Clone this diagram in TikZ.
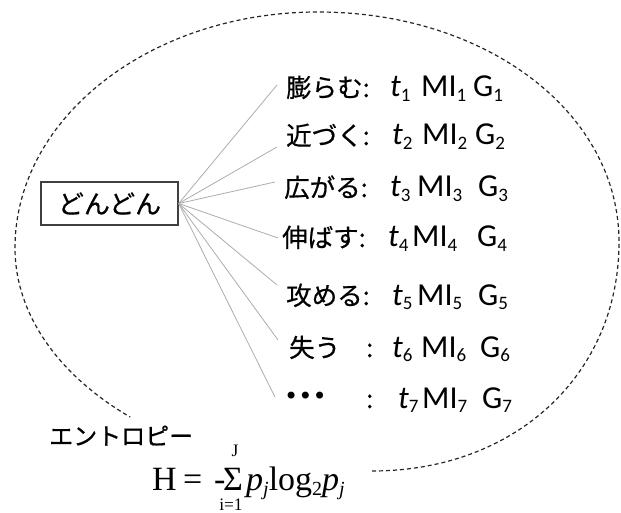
\documentclass[tikz,border=0pt]{standalone}
\usepackage{fontspec}
\newfontfamily\jpf[FakeBold=0.6]{Noto Sans CJK JP}
\newfontfamily\latf{Carlito}
\newfontfamily\tnrf{Liberation Serif}
\newfontfamily\djvf{DejaVu Sans}
\newcommand\subd[1]{\raisebox{-4.5pt}{\latf\fontsize{19}{19}\selectfont #1}}
\newcommand\subt[1]{\raisebox{-5pt}{\tnrf\fontsize{20}{20}\selectfont #1}}
\tikzset{
  jpl/.style={anchor=base west, inner sep=0pt, font=\jpf\fontsize{25.5}{28}\selectfont},
  latl/.style={anchor=base west, inner sep=0pt, font=\latf\fontsize{32}{34}\selectfont},
  tnl/.style={anchor=base west, inner sep=0pt, font=\tnrf\fontsize{34}{36}\selectfont},
  tns/.style={anchor=base, inner sep=0pt, font=\tnrf\fontsize{17.5}{18}\selectfont},
  conn/.style={draw=gray!65, line width=0.8pt},
  frm/.style={draw=black!75, line width=1.3pt, minimum width=137pt, minimum height=43pt, inner sep=0pt, font=\jpf\fontsize{26}{28}\selectfont},
  ell/.style={draw=black!85, line width=1.2pt, dash pattern=on 4pt off 3pt}
}
\begin{document}
\begin{tikzpicture}[x=1pt,y=-1pt]
\useasboundingbox (0,0) rectangle (621,513);
% dashed enclosing curve
\draw[ell] (372,471) .. controls (515,471) and (619,375) .. (619,242)
  .. controls (619,113) and (487,12) .. (318,12)
  .. controls (150.6,12) and (15,117.7) .. (15,248)
  arc[start angle=180, end angle=131, x radius=335, y radius=224];
% central box
\node[frm] (box) at (109.5,203.5) {どんどん};
% rows
\node[jpl] (j1) at (286,97) {膨らむ:};
\node[latl] (t1) at (390,97) {\textit{t}\subd{1}};
\node[latl] (m1) at (421,97) {MI\subd{1}};
\node[latl] (g1) at (473,97) {G\subd{1}};
\node[jpl] (j2) at (286,145) {近づく:};
\node[latl] (t2) at (392,145) {\textit{t}\subd{2}};
\node[latl] (m2) at (422,145) {MI\subd{2}};
\node[latl] (g2) at (475,145) {G\subd{2}};
\node[jpl] (j3) at (284,197) {広がる:};
\node[latl] (t3) at (390,197) {\textit{t}\subd{3}};
\node[latl] (m3) at (417,197) {MI\subd{3}};
\node[latl] (g3) at (478,197) {G\subd{3}};
\node[jpl] (j4) at (282,247) {伸ばす:};
\node[latl] (t4) at (388,247) {\textit{t}\subd{4}};
\node[latl] (m4) at (412,247) {MI\subd{4}};
\node[latl] (g4) at (477,247) {G\subd{4}};
\node[jpl] (j5) at (286,305) {攻める:};
\node[latl] (t5) at (392,305) {\textit{t}\subd{5}};
\node[latl] (m5) at (417,305) {MI\subd{5}};
\node[latl] (g5) at (478,305) {G\subd{5}};
\node[jpl] (j6) at (289,357) {失う};
\node[jpl] (c6) at (366,357) {:};
\node[latl] (t6) at (392,357) {\textit{t}\subd{6}};
\node[latl] (m6) at (421,357) {MI\subd{6}};
\node[latl] (g6) at (480,357) {G\subd{6}};
\node[jpl, font=\djvf\fontsize{24}{26}\selectfont] (j7) at (284,404) {•••};
\node[jpl] (c7) at (366,408) {:};
\node[latl] (t7) at (398,408) {\textit{t}\subd{7}};
\node[latl] (m7) at (422,408) {MI\subd{7}};
\node[latl] (g7) at (482,408) {G\subd{7}};
% connector ends
\coordinate (e1) at (277,85);
\coordinate (e2) at (277,147);
\coordinate (e3) at (275,182);
\coordinate (e4) at (278,238);
\coordinate (e5) at (277,285);
\coordinate (e6) at (278,340);
\coordinate (e7) at (275,397);
\foreach \k in {1,...,7} \draw[conn] (box.east) -- (e\k);
% entropy
\node[jpl, font=\jpf\fontsize{24}{26}\selectfont] (ent) at (49,445) {エントロピー};
\node[tnl] (hh) at (152,490) {H};
\node[tnl] (eq) at (183,490) {=};
\node[tnl] (mn) at (214,490) {-};
\node[tnl] (sg) at (223,490) {Σ};
\node[tns] (up) at (235,456) {J};
\node[tns] (lo) at (231,510) {i=1};
\node[tnl] (pp) at (246,490) {\textit{p}\subt{\textit{j}}log\subt{2}\textit{p}\subt{\textit{j}}};
\end{tikzpicture}
\end{document}
